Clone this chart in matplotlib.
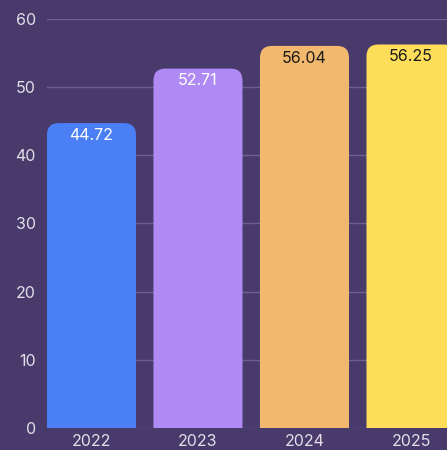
import matplotlib.pyplot as plt
from matplotlib.patches import FancyBboxPatch

years = ['2022', '2023', '2024', '2025']
values = [44.72, 52.71, 56.04, 56.25]
bar_colors = ['#4a7ff6', '#b08af4', '#f2b86e', '#fedd5a']
label_colors = ['white', 'white', '#1a1a1a', '#1a1a1a']

bg = '#483a6b'
plt.rcParams['font.family'] = ['Inter', 'DejaVu Sans']

fig = plt.figure(figsize=(4.47, 4.50), dpi=100)
fig.patch.set_facecolor(bg)
ax = fig.add_axes([0.105, 0.049, 0.895, 0.909])
ax.set_facecolor(bg)

width = 0.836
ax.set_xlim(-width / 2, 3.338)
ax.set_ylim(0, 60)

# rounded top corners: draw a rounded box that dips below zero, axes clip the bottom
px_x = 400 / (3.338 + width / 2)
px_y = 409 / 60
radius = 12 / px_x
aspect = px_x / px_y
for i, (v, c, lc) in enumerate(zip(values, bar_colors, label_colors)):
    box = FancyBboxPatch((i - width / 2, -5), width, v + 5,
                         boxstyle=f'round,pad=0,rounding_size={radius}',
                         mutation_aspect=aspect, facecolor=c, edgecolor='none',
                         zorder=3)
    ax.add_patch(box)
    ax.text(i, v - 0.7, f'{v:.2f}', ha='center', va='top', color=lc,
            fontsize=11.5, zorder=4)

ax.set_yticks(range(0, 61, 10))
ax.set_xticks(range(len(years)))
ax.set_xticklabels(years)
ax.grid(axis='y', color='#6d6090', linewidth=1)
ax.set_axisbelow(True)
ax.tick_params(length=0, colors='#e2dfe9', labelsize=11.5)
ax.tick_params(axis='y', pad=8)
ax.tick_params(axis='x', pad=4)
for s in ax.spines.values():
    s.set_visible(False)

fig.savefig('out.png', dpi=100, facecolor=bg)
